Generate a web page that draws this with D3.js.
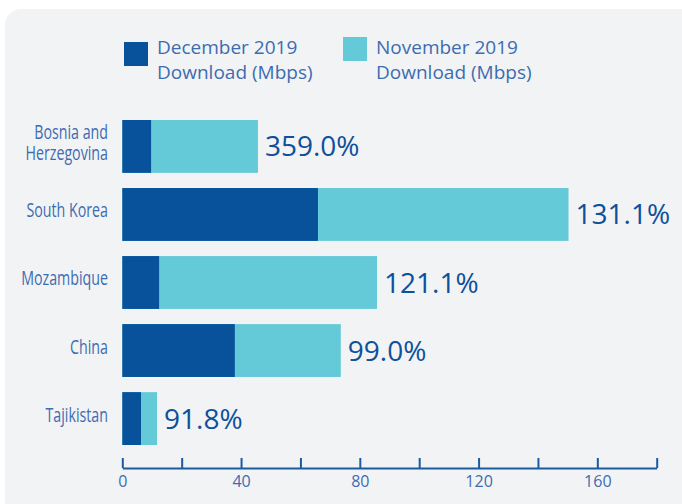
<!DOCTYPE html>
<html>
<head>
<meta charset="utf-8">
<script src="https://cdn.jsdelivr.net/npm/d3@7"></script>
<style>
    html, body { margin: 0; padding: 0; background: #ffffff; }
    svg { display: block; }
</style>
</head>
<body>
<div id="chart"></div>
<script>
// values
var countries = ['Bosnia and Herzegovina', 'South Korea', 'Mozambique', 'China', 'Tajikistan'];
var countryLines = [['Bosnia and', 'Herzegovina'], ['South Korea'], ['Mozambique'], ['China'], ['Tajikistan']];
var december = [9.7, 65.9, 12.4, 37.9, 6.3];
var november = [45.7, 150.3, 85.8, 73.6, 11.7];
var growth = ['359.0%', '131.1%', '121.1%', '99.0%', '91.8%'];
var xTicks = [0, 20, 40, 60, 80, 100, 120, 140, 160, 180];
var xLabels = [0, 40, 80, 120, 160];
var seriesNames = [['December 2019', 'Download (Mbps)'], ['November 2019', 'Download (Mbps)']];

var W = 682, H = 504;
var darkBlue = '#08529c',
    cyan = '#65cad8',
    labelBlue = '#3d6cb0',
    valueBlue = '#0d509c',
    panel = '#f2f3f5';
var sans = '"Open Sans", "Noto Sans", sans-serif';

var svg = d3.select('#chart').append('svg')
    .attr('width', W)
    .attr('height', H);

svg.append('rect')
    .attr('x', 5)
    .attr('y', 9)
    .attr('width', 700)
    .attr('height', 520)
    .attr('rx', 16)
    .attr('fill', panel);

var rows = countries.map(function(c, i) {
    return { country: c, lines: countryLines[i], dec: december[i], nov: november[i], pct: growth[i] };
});

var x = d3.scaleLinear()
    .domain([0, 180])
    .range([122.3, 656.7]);

var y = d3.scaleBand()
    .domain(countries)
    .range([120, 445])
    .paddingInner(0.223)
    .paddingOuter(0);

// bars: november behind, december in front
var bar = svg.append('g').selectAll('g')
    .data(rows)
    .enter().append('g');

bar.append('rect')
    .attr('x', x(0))
    .attr('y', function(d) { return y(d.country); })
    .attr('width', function(d) { return x(d.nov) - x(0); })
    .attr('height', y.bandwidth())
    .attr('fill', cyan);

bar.append('rect')
    .attr('x', x(0))
    .attr('y', function(d) { return y(d.country); })
    .attr('width', function(d) { return x(d.dec) - x(0); })
    .attr('height', y.bandwidth())
    .attr('fill', darkBlue);

bar.append('text')
    .attr('x', function(d) { return x(d.nov) + 7; })
    .attr('y', function(d) { return y(d.country) + y.bandwidth() / 2 + 10; })
    .attr('fill', valueBlue)
    .style('font-family', sans)
    .style('font-size', '28px')
    .text(function(d) { return d.pct; });

// country names, right aligned; squeezed sideways since no condensed face is installed
var names = bar.append('text')
    .attr('transform', 'translate(108,0) scale(0.73,1)')
    .attr('text-anchor', 'end')
    .attr('fill', labelBlue)
    .style('font-family', sans)
    .style('font-size', '19.5px');

names.selectAll('tspan')
    .data(function(d) {
        var mid = y(d.country) + y.bandwidth() / 2 - 4;
        var lh = 21;
        return d.lines.map(function(l, i) {
            return { text: l, y: mid + 7 + (i - (d.lines.length - 1) / 2) * lh };
        });
    })
    .enter().append('tspan')
    .attr('x', 0)
    .attr('y', function(d) { return d.y; })
    .text(function(d) { return d.text; });

// axis
var axis = svg.append('g')
    .attr('transform', 'translate(0,468)')
    .call(d3.axisBottom(x)
        .tickValues(xTicks)
        .tickSize(-10)
        .tickSizeOuter(0)
        .tickPadding(8)
        .tickFormat(function(d) { return xLabels.indexOf(d) >= 0 ? d : ''; }));

axis.select('.domain')
    .attr('stroke', '#1b5ba2')
    .attr('stroke-width', 2);

axis.selectAll('.tick line')
    .attr('stroke', '#1b5ba2')
    .attr('stroke-width', 2);

axis.selectAll('.tick text')
    .attr('fill', labelBlue)
    .style('font-family', sans)
    .style('font-size', '16px');

// legend
var legendX = [124, 343],
    legendSwatchY = [42, 37],
    legendColors = [darkBlue, cyan];

var legend = svg.append('g').selectAll('g')
    .data(seriesNames)
    .enter().append('g');

legend.append('rect')
    .attr('x', function(d, i) { return legendX[i]; })
    .attr('y', function(d, i) { return legendSwatchY[i]; })
    .attr('width', 24)
    .attr('height', 24)
    .attr('fill', function(d, i) { return legendColors[i]; });

legend.append('text')
    .attr('fill', labelBlue)
    .style('font-family', sans)
    .style('font-size', '19px')
    .selectAll('tspan')
    .data(function(d, i) {
        return d.map(function(t, j) { return { text: t, x: legendX[i] + 33, y: 54 + j * 25 }; });
    })
    .enter().append('tspan')
    .attr('x', function(d) { return d.x; })
    .attr('y', function(d) { return d.y; })
    .text(function(d) { return d.text; });
</script>
</body>
</html>
